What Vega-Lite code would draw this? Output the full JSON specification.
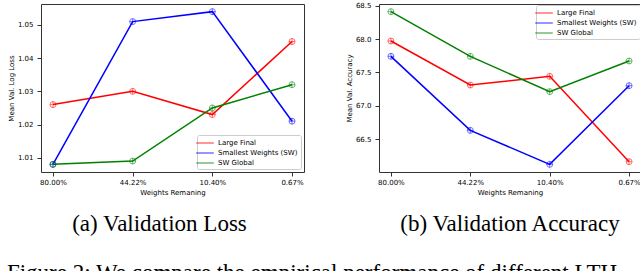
{
  "$schema": "https://vega.github.io/schema/vega-lite/v6.json",
  "background": "white",
  "padding": {"left": 6, "top": 1, "right": 0, "bottom": 40},
  "bounds": "flush",
  "spacing": 75,
  "datasets": {
    "loss": [
      {"w": "80.00%", "series": "Large Final", "v": 1.026},
      {"w": "44.22%", "series": "Large Final", "v": 1.030},
      {"w": "10.40%", "series": "Large Final", "v": 1.023},
      {"w": "0.67%", "series": "Large Final", "v": 1.045},
      {"w": "80.00%", "series": "Smallest Weights (SW)", "v": 1.008},
      {"w": "44.22%", "series": "Smallest Weights (SW)", "v": 1.051},
      {"w": "10.40%", "series": "Smallest Weights (SW)", "v": 1.054},
      {"w": "0.67%", "series": "Smallest Weights (SW)", "v": 1.021},
      {"w": "80.00%", "series": "SW Global", "v": 1.008},
      {"w": "44.22%", "series": "SW Global", "v": 1.009},
      {"w": "10.40%", "series": "SW Global", "v": 1.025},
      {"w": "0.67%", "series": "SW Global", "v": 1.032}
    ],
    "acc": [
      {"w": "80.00%", "series": "Large Final", "v": 67.97},
      {"w": "44.22%", "series": "Large Final", "v": 67.31},
      {"w": "10.40%", "series": "Large Final", "v": 67.44},
      {"w": "0.67%", "series": "Large Final", "v": 66.16},
      {"w": "80.00%", "series": "Smallest Weights (SW)", "v": 67.74},
      {"w": "44.22%", "series": "Smallest Weights (SW)", "v": 66.63},
      {"w": "10.40%", "series": "Smallest Weights (SW)", "v": 66.12},
      {"w": "0.67%", "series": "Smallest Weights (SW)", "v": 67.30},
      {"w": "80.00%", "series": "SW Global", "v": 68.41},
      {"w": "44.22%", "series": "SW Global", "v": 67.74},
      {"w": "10.40%", "series": "SW Global", "v": 67.21},
      {"w": "0.67%", "series": "SW Global", "v": 67.67}
    ]
  },
  "title": {
    "text": "Figure 2: We compare the empirical performance of different LTH",
    "orient": "bottom",
    "anchor": "start",
    "font": "Liberation Serif",
    "fontSize": 23,
    "fontWeight": "normal",
    "color": "black",
    "offset": 25
  },
  "hconcat": [
    {
      "width": 263,
      "height": 168,
      "data": {"name": "loss"},
      "title": {"text": "(a) Validation Loss", "dx": -13, "font": "Liberation Serif", "fontSize": 23, "fontWeight": "normal", "color": "black", "orient": "bottom", "offset": 18},
      "encoding": {
        "x": {
          "field": "w", "type": "ordinal",
          "sort": ["80.00%", "44.22%", "10.40%", "0.67%"],
          "scale": {"type": "point", "padding": 0.15},
          "axis": {"title": "Weights Remaning"}
        },
        "y": {
          "field": "v", "type": "quantitative",
          "scale": {"domain": [1.0057, 1.0563], "nice": false, "zero": false},
          "axis": {"title": "Mean Val. Log Loss", "values": [1.01, 1.02, 1.03, 1.04, 1.05], "format": ".2f"}
        },
        "color": {
          "field": "series", "type": "nominal",
          "scale": {"domain": ["Large Final", "Smallest Weights (SW)", "SW Global"], "range": ["#ff0000", "#0000ff", "#008000"]},
          "legend": {"orient": "bottom-right", "offset": 3}
        }
      },
      "layer": [
        {"mark": {"type": "line", "strokeWidth": 1.5}},
        {"mark": {"type": "point", "shape": "circle", "filled": false, "size": 36, "strokeWidth": 1, "opacity": 0.55}},
        {"mark": {"type": "point", "shape": "M-1,0H1M0,-1V1", "filled": false, "size": 36, "strokeWidth": 1, "opacity": 0.55}}
      ]
    },
    {
      "width": 262,
      "height": 168,
      "data": {"name": "acc"},
      "title": {"text": "(b) Validation Accuracy", "font": "Liberation Serif", "fontSize": 23, "fontWeight": "normal", "color": "black", "orient": "bottom", "offset": 18},
      "encoding": {
        "x": {
          "field": "w", "type": "ordinal",
          "sort": ["80.00%", "44.22%", "10.40%", "0.67%"],
          "scale": {"type": "point", "padding": 0.15},
          "axis": {"title": "Weights Remaning"}
        },
        "y": {
          "field": "v", "type": "quantitative",
          "scale": {"domain": [66.005, 68.525], "nice": false, "zero": false},
          "axis": {"title": "Mean Val. Accuracy", "values": [66.5, 67.0, 67.5, 68.0, 68.5], "format": ".1f"}
        },
        "color": {
          "field": "series", "type": "nominal",
          "scale": {"domain": ["Large Final", "Smallest Weights (SW)", "SW Global"], "range": ["#ff0000", "#0000ff", "#008000"]},
          "legend": {"orient": "top-right", "offset": 1}
        }
      },
      "layer": [
        {"mark": {"type": "line", "strokeWidth": 1.5}},
        {"mark": {"type": "point", "shape": "circle", "filled": false, "size": 36, "strokeWidth": 1, "opacity": 0.55}},
        {"mark": {"type": "point", "shape": "M-1,0H1M0,-1V1", "filled": false, "size": 36, "strokeWidth": 1, "opacity": 0.55}}
      ]
    }
  ],
  "resolve": {"scale": {"color": "independent"}, "legend": {"color": "independent"}},
  "config": {
    "font": "DejaVu Sans",
    "view": {"stroke": "#333333", "strokeWidth": 1},
    "axis": {
      "grid": false,
      "domain": false,
      "tickColor": "#333333",
      "tickSize": 4,
      "labelFont": "DejaVu Sans",
      "labelFontSize": 7,
      "labelColor": "black",
      "titleFont": "DejaVu Sans",
      "titleFontSize": 7,
      "titleFontWeight": "normal",
      "titleColor": "black"
    },
    "axisX": {"labelAngle": 0, "labelPadding": 2, "titlePadding": 3},
    "axisY": {"labelPadding": 4, "titlePadding": 3},
    "legend": {
      "title": null,
      "labelFont": "DejaVu Sans",
      "labelFontSize": 7,
      "labelColor": "black",
      "symbolType": "M-2.2,0H2.2",
      "symbolSize": 64,
      "symbolStrokeWidth": 1.5,
      "symbolFillColor": "transparent",
      "labelOffset": 8,
      "rowPadding": 2,
      "padding": 3,
      "strokeColor": "#cccccc",
      "fillColor": "rgba(255,255,255,0.85)",
      "cornerRadius": 2
    }
  }
}
